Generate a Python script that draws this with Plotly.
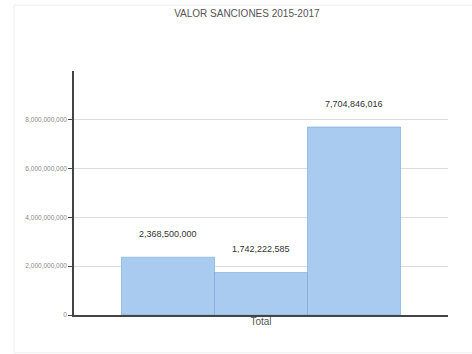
import plotly.graph_objects as go

# Sanction totals by group, 2015-2017
category = ["Total"]
series_names = ["Grupo 1", "Grupo 2", "Grupo 3"]
values = [2368500000, 1742222585, 7704846016]
y_ticks = [0, 2000000000, 4000000000, 6000000000, 8000000000]

bar_color = "#a9cbef"
bargap = 0.254
n = len(values)
slot = (1 - bargap) / n

fig = go.Figure()
for name, v in zip(series_names, values):
    fig.add_trace(go.Bar(
        x=category, y=[v], name=name,
        marker=dict(color=bar_color, line=dict(color="rgba(110,160,215,0.55)", width=1)),
        hoverinfo="y",
    ))

# value labels floated above each bar
for i, v in enumerate(values):
    fig.add_annotation(
        x=(i - (n - 1) / 2) * slot, y=v, xref="x", yref="y",
        text=f"{v:,}", showarrow=False, yshift=23,
        font=dict(family="Liberation Sans, Arial, sans-serif", size=9, color="#333"),
    )

# faint frame around the chart
fig.add_shape(type="rect", xref="paper", yref="paper",
              x0=-0.16, x1=1.12, y0=-0.155, y1=1.27,
              line=dict(color="#eeeeee", width=1), layer="below")

fig.update_layout(
    width=472, height=354,
    margin=dict(l=74, r=24, t=71, b=39),
    paper_bgcolor="white", plot_bgcolor="white",
    barmode="group", bargap=bargap, bargroupgap=0,
    showlegend=False,
    title=dict(text="VALOR SANCIONES 2015-2017", x=0.523, xref="container",
               y=0.963, yref="container", yanchor="middle", xanchor="center",
               font=dict(family="Liberation Sans, Arial, sans-serif", size=10, color="#555")),
    font=dict(family="Liberation Sans, Arial, sans-serif"),
)
fig.update_xaxes(
    showline=True, linecolor="#444", linewidth=1.5,
    showgrid=False, ticks="",
    tickfont=dict(size=10, color="#555"),
    ticklabelstandoff=-4,
    range=[-0.5, 0.5],
)
fig.update_yaxes(
    range=[0, 10000000000], tickvals=y_ticks, tickformat=",",
    showline=True, linecolor="#444", linewidth=1.5,
    ticks="outside", ticklen=4, tickcolor="#444",
    showgrid=True, gridcolor="#dddddd", gridwidth=1,
    zeroline=False,
    tickfont=dict(size=6.5, color="#888"),
)

fig.write_html("out.html")
